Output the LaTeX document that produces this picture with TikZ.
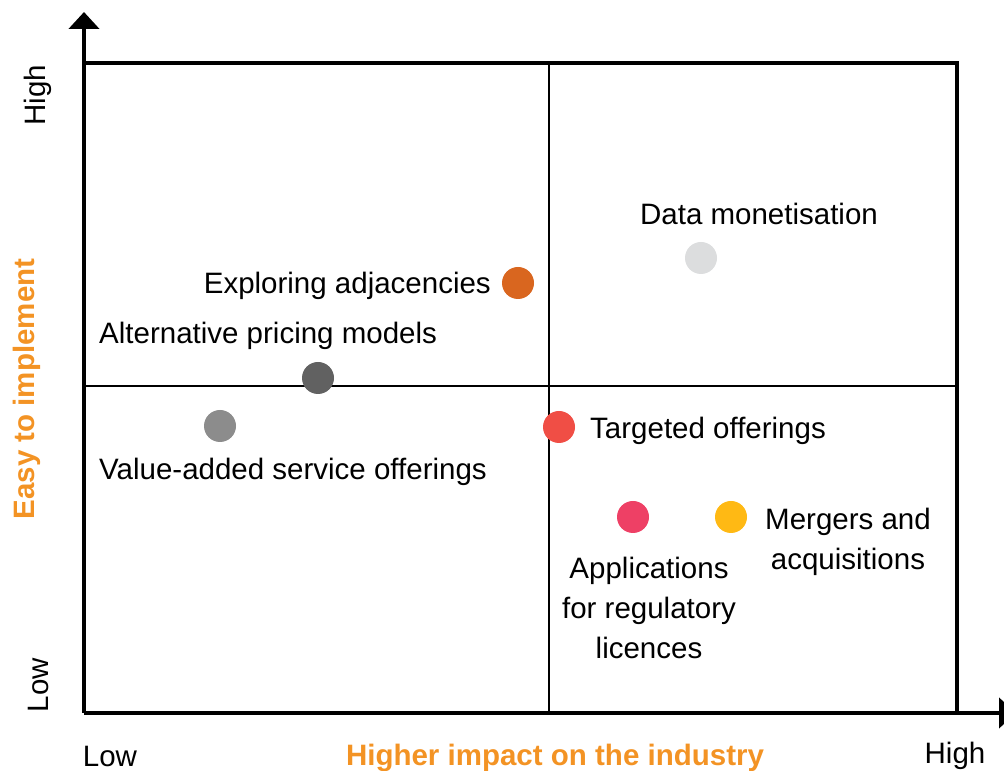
\documentclass[tikz,border=0pt]{standalone}
\usepackage{fontspec}
\setmainfont{Liberation Sans}
\usepackage{tikz}
\usetikzlibrary{arrows.meta}
\usetikzlibrary{positioning}
\definecolor{axisorange}{HTML}{F39324}
\definecolor{rustorange}{HTML}{D9661F}
\definecolor{palegrey}{HTML}{DCDDDE}
\definecolor{darkgrey}{HTML}{616161}
\definecolor{midgrey}{HTML}{8C8C8C}
\definecolor{tomato}{HTML}{F04E45}
\definecolor{rosered}{HTML}{EE4065}
\definecolor{sunyellow}{HTML}{FFB914}
\tikzset{
  lbl/.style={inner sep=0pt, font=\fontsize{29.5}{40}\selectfont},
  axislbl/.style={lbl, text=axisorange, font=\fontsize{29.5}{40}\selectfont\bfseries},
  dot/.style={radius=16}
}

\begin{document}
\begin{tikzpicture}[line cap=butt,line join=miter,x=1pt,y=1pt]
\useasboundingbox (0,0) rectangle (1004,771);
% axes and outer frame
\draw [line width=4.5pt, -{Triangle[length=17pt, width=30pt]}] (84,58) -- (84,759);
\draw [line width=4.5pt, -{Triangle[length=17pt, width=30pt]}] (84,58) -- (1016,58);
\draw [line width=4pt] (84,708) -- (957,708) -- (957,58);
% quadrant lines
\draw [line width=2pt] (549,58) -- (549,708);
\draw [line width=2pt] (84,385) -- (957,385);
% axis labels
\node [lbl, rotate=90] (yhigh) at (38,676) {High};
\node [lbl, rotate=90] (ylow) at (38,86) {Low};
\node [lbl] (xlow) at (110,15) {Low};
\node [lbl] (xhigh) at (955,15) {High};
\node [axislbl] (xtitle) at (555,13) {Higher impact on the industry};
\node [axislbl, rotate=90] (ytitle) at (27,382) {Easy to implement};
% initiatives
\fill [color=rustorange] (518,488) circle [dot];
\fill [color=palegrey] (701,513) circle [dot];
\fill [color=darkgrey] (318,393) circle [dot];
\fill [color=midgrey] (220,345) circle [dot];
\fill [color=tomato] (559,344) circle [dot];
\fill [color=rosered] (633,254) circle [dot];
\fill [color=sunyellow] (731,254) circle [dot];
\node [lbl] (datamon) at (759,557) {Data monetisation};
\node [lbl, anchor=east] (explore) at (491,485) {Exploring adjacencies};
\node [lbl, anchor=west] (altprice) at (99,435) {Alternative pricing models};
\node [lbl, anchor=west] (valueadd) at (99,299) {Value-added service offerings};
\node [lbl, anchor=west] (targeted) at (590,340) {Targeted offerings};
\node [lbl, align=center] (regapps) at (649,163) {Applications\\for regulatory\\licences};
\node [lbl, align=center] (mergers) at (848,229) {Mergers and\\acquisitions};
\end{tikzpicture}
\end{document}
